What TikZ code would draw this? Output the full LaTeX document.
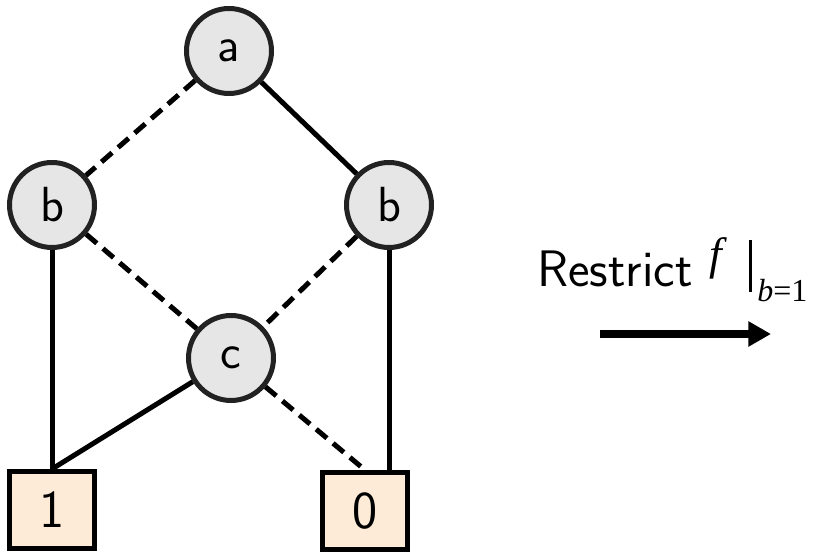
\documentclass[tikz,border=0pt]{standalone}
\usepackage{fontspec}
\newfontfamily\fserif{Liberation Serif}
\usetikzlibrary{arrows.meta}
\definecolor{nodefill}{HTML}{E6E6E6}
\definecolor{nodeline}{HTML}{222222}
\definecolor{leaffill}{HTML}{FDEAD7}
\begin{document}
\begin{tikzpicture}[x=0.75pt,y=-0.75pt,
  vnode/.style={circle,draw=nodeline,fill=nodefill,line width=3.75pt,minimum size=63.75pt,inner sep=0pt,font=\sffamily\fontsize{37}{44}\selectfont},
  leaf/.style={rectangle,draw=black,fill=leaffill,line width=3.75pt,minimum width=63.75pt,minimum height=57.75pt,inner sep=0pt,font=\sffamily\fontsize{40}{46}\selectfont},
  hi/.style={line width=3.75pt,black},
  lo/.style={line width=3.75pt,black,dash pattern=on 10.5pt off 6pt},
  bigarrow/.style={line width=5.5pt,-{Triangle[length=17pt,width=18pt]}},
  lbltext/.style={anchor=base west,inner sep=0pt}]
\useasboundingbox (0,0) rectangle (819,552);
\node[vnode] (a) at (229,51) {a};
\node[vnode] (bl) at (52,205) {b};
\node[vnode] (br) at (389,205) {b};
\node[vnode] (c) at (231,358) {c};
\node[leaf] (one) at (52,510) {1};
\node[leaf] (zero) at (365,511) {0};
\draw[lo] (a) -- (bl);
\draw[hi] (a) -- (br);
\draw[lo] (bl) -- (c);
\draw[lo] (br) -- (c);
\draw[hi] (bl.south) -- (one.north);
\draw[hi] (br.south) -- (br.south |- zero.north);
\draw[hi] (c) -- (one.north);
\draw[lo] (c) -- (zero.north);
\node[lbltext,font=\sffamily\fontsize{38.5}{46}\selectfont] (lbl) at (537,287) {Restrict};
\node[lbltext,font=\fserif\itshape\fontsize{34}{38}\selectfont] (fn) at (709,270) {f};
\draw[line width=2.25pt] (750,240) -- (750,292);
\node[lbltext,font=\fserif\fontsize{24}{28}\selectfont] (sub) at (757,302) {\textit{b}=1};
\coordinate (as) at (600,334);
\coordinate (ae) at (771,334);
\draw[bigarrow] (as) -- (ae);
\end{tikzpicture}
\end{document}
